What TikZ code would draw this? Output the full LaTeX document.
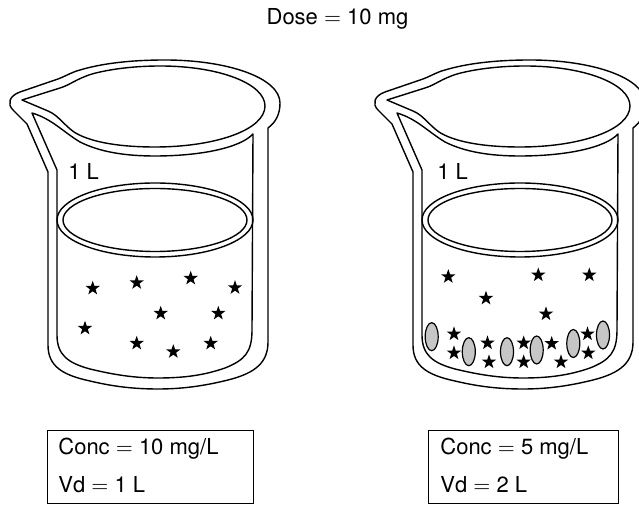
\documentclass[tikz,border=0pt]{standalone}
\usepackage{fontspec}
\setmainfont{TeX Gyre Heros}
\usetikzlibrary{shapes.geometric}

\tikzset{
  glass/.style={draw=black, line width=0.7pt, line join=round},
  starmark/.style={star, star points=5, star point ratio=2.5, fill=black,
    draw=none, inner sep=0pt, minimum size=7.5pt},
  particle/.style={ellipse, draw=black, line width=0.6pt, fill=gray!45,
    inner sep=0pt, minimum width=6.5pt, minimum height=14pt},
  txt/.style={font=\fontsize{11}{13}\selectfont, inner sep=0pt, anchor=base west},
  infobox/.style={draw=black, line width=0.7pt, inner sep=0pt, anchor=north west},
  % one beaker: outer outline, inner rim with spout, glass body, liquid surface
  beaker/.pic={
    \path[glass] (13,110) -- (27,124) -- (48,172) -- (48,345)
      .. controls (48,366) and (62,375) .. (90,381)
      .. controls (115,387) and (136,389) .. (158,389)
      .. controls (182,389) and (204,386) .. (228,380)
      .. controls (256,373) and (268,362) .. (268,342)
      -- (268,128)
      .. controls (276,122) and (280,114) .. (280,103)
      .. controls (280,78) and (228,60) .. (165,60)
      .. controls (128,60) and (100,64) .. (80,70)
      .. controls (72,72) and (66,76) .. (58,79)
      -- (20,92)
      .. controls (9,96) and (7,104) .. (13,110) -- cycle;
    \path[glass] (22,100) -- (60,88)
      .. controls (70,85) and (76,79) .. (92,74)
      .. controls (110,69) and (135,66) .. (160,66)
      .. controls (220,66) and (265,84) .. (265,106)
      .. controls (265,130) and (215,147) .. (155,147)
      .. controls (115,147) and (88,141) .. (74,132)
      .. controls (64,125) and (58,115) .. (48,111) -- cycle;
    \path[glass] (32,113)
      .. controls (52,119) and (62,131) .. (80,142)
      .. controls (100,152) and (125,156) .. (155,156)
      .. controls (200,156) and (240,148) .. (253,134)
      -- (252,330)
      .. controls (252,352) and (245,360) .. (225,368)
      .. controls (205,375) and (185,378) .. (158,378)
      .. controls (135,378) and (115,375) .. (90,369)
      .. controls (68,363) and (57,355) .. (57,335)
      -- (57,170) -- cycle;
    \path[glass] (155,220) ellipse [x radius=98, y radius=37];
    \path[glass] (155,220) ellipse [x radius=92, y radius=31.5];
  }
}

\begin{document}
\begin{tikzpicture}[x=0.5pt, y=-0.5pt]
  \useasboundingbox (0,0) rectangle (639,507);
  \clip (0,0) rectangle (639,507);

  \node[txt, anchor=base] (dose) at (337.5,25) {Dose $=$ 10 mg};

  % left beaker: drug stays in the liquid
  \pic at (0,0) {beaker};
  \node[txt] (vol1) at (68,180) {1 L};
  \foreach \px/\py [count=\i] in {92.7/288.3, 136.7/282.7, 190.7/278.3, 235/287.7,
      160.7/313.3, 218.3/313.3, 85/328.3, 136.7/343.3, 173.3/351.7, 210.7/343.3}
    \node[starmark] (ls\i) at (\px,\py) {};

  % right beaker: part of the drug bound to tissue particles
  \pic at (365,0) {beaker};
  \node[txt] (vol2) at (437,180) {1 L};
  \foreach \px/\py [count=\i] in {431.7/336.7, 468.8/351.7, 507/351.7,
      536.7/350, 573.3/343.5, 603/335}
    \node[particle] (rp\i) at (\px,\py) {};
  \foreach \px/\py [count=\i] in {448.3/276.7, 538.3/275, 589.3/275, 486/298.3,
      546/314, 454/334, 454/353, 487.5/343, 489/362, 523.7/343, 523.7/362,
      551.7/343.5, 561/362, 587.5/334, 588.3/353}
    \node[starmark] (rs\i) at (\px,\py) {};

  % summary boxes
  \node[infobox, minimum width=103pt, minimum height=36.5pt] (box1) at (47,430) {};
  \node[txt] (conc1) at (58,455) {Conc $=$ 10 mg/L};
  \node[txt] (vd1) at (58,493) {Vd $=$ 1 L};

  \node[infobox, minimum width=95pt, minimum height=36.5pt] (box2) at (428,430) {};
  \node[txt] (conc2) at (440,455) {Conc $=$ 5 mg/L};
  \node[txt] (vd2) at (440,493) {Vd $=$ 2 L};
\end{tikzpicture}
\end{document}
